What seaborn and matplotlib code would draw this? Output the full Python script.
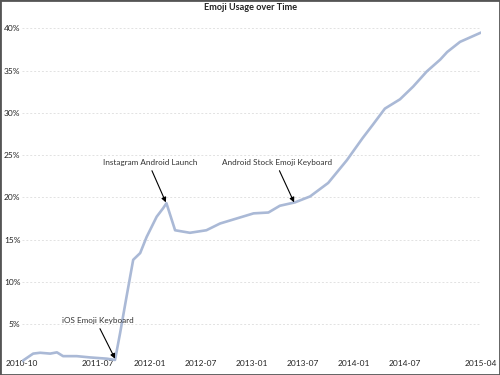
import matplotlib
matplotlib.use("Agg")
import matplotlib.pyplot as plt
from matplotlib.patches import Rectangle
import pandas as pd
import seaborn as sns

dates = ["2010-10-01", "2010-11-10", "2010-12-05", "2011-01-10", "2011-02-03",
         "2011-02-25", "2011-04-15", "2011-06-01", "2011-08-01", "2011-08-30",
         "2011-09-17", "2011-10-10", "2011-11-03", "2011-11-28", "2011-12-21",
         "2012-01-26", "2012-02-18", "2012-03-01", "2012-04-01", "2012-05-24",
         "2012-07-22", "2012-09-09", "2012-11-18", "2013-01-07", "2013-03-01",
         "2013-04-11", "2013-06-04", "2013-07-28", "2013-10-01", "2013-12-07",
         "2014-02-01", "2014-03-10", "2014-04-22", "2014-06-15", "2014-08-01",
         "2014-09-19", "2014-11-06", "2014-12-01", "2015-01-16", "2015-04-01"]
usage = [0.6, 1.5, 1.6, 1.5, 1.65,
         1.2, 1.2, 1.05, 0.9, 0.75,
         3.9, 8.2, 12.6, 13.4, 15.3,
         17.7, 18.7, 19.3, 16.1, 15.8,
         16.1, 16.9, 17.6, 18.1, 18.2,
         19.0, 19.4, 20.1, 21.7, 24.4,
         27.0, 28.6, 30.5, 31.6, 33.1,
         34.9, 36.3, 37.2, 38.4, 39.5]

tick_dates = ["2010-10-01", "2011-07-01", "2012-01-01", "2012-07-01", "2013-01-01",
              "2013-07-01", "2014-01-01", "2014-07-01", "2015-04-01"]
tick_labels = ["2010-10", "2011-07", "2012-01", "2012-07", "2013-01",
               "2013-07", "2014-01", "2014-07", "2015-04"]
y_ticks = [5, 10, 15, 20, 25, 30, 35, 40]

annotations = [
    ("iOS Emoji Keyboard", "2011-08-30", 0.9, "2011-06-29", 5.4),
    ("Instagram Android Launch", "2012-02-28", 19.4, "2012-01-02", 24.1),
    ("Android Stock Emoji Keyboard", "2013-06-01", 19.4, "2013-04-02", 24.1),
]

df = pd.DataFrame({"date": pd.to_datetime(dates), "usage": usage})

sns.set_theme(style="white")
plt.rcParams["font.family"] = ["Lato", "DejaVu Sans"]

fig = plt.figure(figsize=(5, 3.75), dpi=100)
ax = fig.add_axes([22 / 500, 5 / 375, (481 - 22) / 500, 360 / 375])

sns.lineplot(data=df, x="date", y="usage", ax=ax, color="#aab9d6", linewidth=1.9)

ax.set_xlim(pd.Timestamp("2010-10-01"), pd.Timestamp("2015-04-01"))
ax.set_ylim(-0.44, 42.17)

ax.set_yticks(y_ticks)
ax.set_yticklabels([f"{v}%" for v in y_ticks], fontsize=6, color="#222222")
ax.set_xticks(pd.to_datetime(tick_dates))
ax.set_xticklabels(tick_labels, fontsize=6, color="#222222")
ax.tick_params(axis="y", length=0, pad=1)
ax.tick_params(axis="x", length=0, pad=-7)

ax.grid(axis="y", color="#e2e2e2", linestyle=(0, (2, 2)), linewidth=0.7)
ax.grid(axis="x", visible=False)
for s in ax.spines.values():
    s.set_visible(False)
ax.set_xlabel("")
ax.set_ylabel("")

for text, xd, yd, xt, yt in annotations:
    ax.annotate(text, xy=(pd.Timestamp(xd), yd), xytext=(pd.Timestamp(xt), yt),
                ha="center", va="center", fontsize=5.9, color="#333333",
                arrowprops=dict(arrowstyle="-|>", color="black", lw=0.8,
                                mutation_scale=7, shrinkA=1, shrinkB=0,
                                relpos=(0.5, 0.0)))

fig.text(0.502, 1 - 8 / 375, "Emoji Usage over Time", ha="center", va="center",
         fontsize=6.6, fontweight="bold", color="#222222")

fig.patches.append(Rectangle((0, 0), 1, 1, transform=fig.transFigure, fill=False,
                             edgecolor="#555555", linewidth=2, zorder=10))

fig.savefig("out.png", dpi=100, facecolor="white")
